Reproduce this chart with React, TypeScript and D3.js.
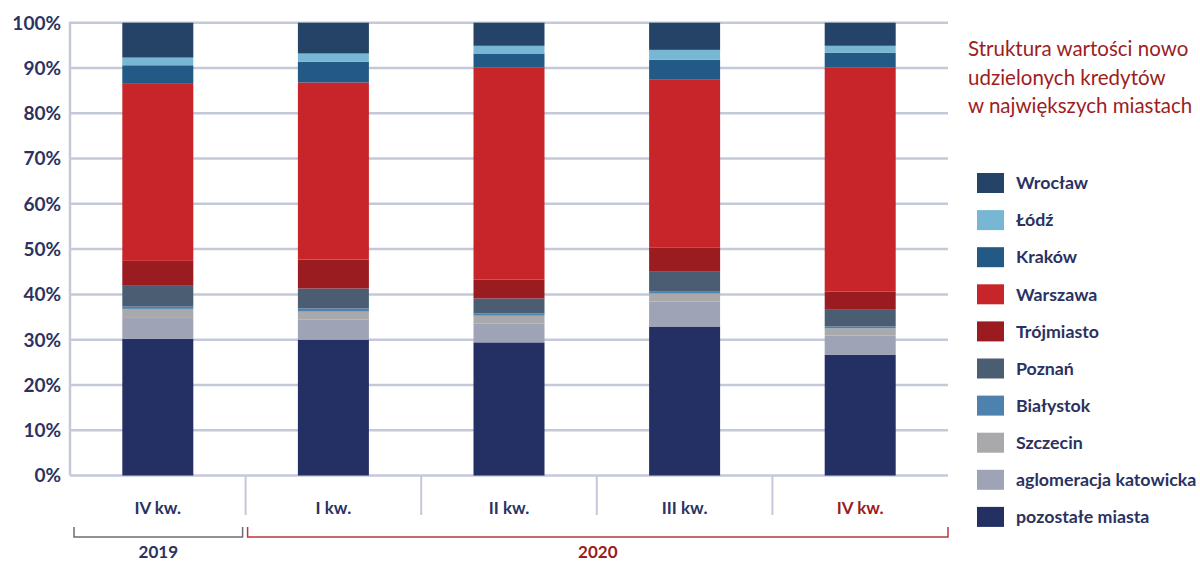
import React from "react";
import * as d3 from "d3";

const categories = ["IV kw.", "I kw.", "II kw.", "III kw.", "IV kw."];
const series = [
  "pozostałe miasta",
  "aglomeracja katowicka",
  "Szczecin",
  "Białystok",
  "Poznań",
  "Trójmiasto",
  "Warszawa",
  "Kraków",
  "Łódź",
  "Wrocław",
];
const pozostale = [30.2, 30.0, 29.4, 32.9, 26.7];
const katowicka = [4.6, 4.4, 4.2, 5.5, 4.2];
const szczecin = [2.0, 1.8, 1.7, 1.8, 1.6];
const bialystok = [0.5, 0.7, 0.5, 0.4, 0.4];
const poznan = [4.6, 4.4, 3.3, 4.4, 3.7];
const trojmiasto = [5.5, 6.4, 4.2, 5.3, 4.0];
const warszawa = [39.1, 39.1, 46.8, 37.1, 49.5];
const krakow = [4.1, 4.6, 3.1, 4.4, 3.3];
const lodz = [1.7, 1.8, 1.7, 2.2, 1.5];
const wroclaw = [7.7, 6.8, 5.1, 6.0, 5.1];
const yTicks = [0, 10, 20, 30, 40, 50, 60, 70, 80, 90, 100];
const years = [
  { label: "2019", from: 0, to: 0 },
  { label: "2020", from: 1, to: 4 },
];
const title = ["Struktura wartości nowo", "udzielonych kredytów", "w największych miastach"];

const colors = [
  "#242f63",
  "#9ea3b5",
  "#a9a9ab",
  "#4c82ad",
  "#4a5d73",
  "#9a1c21",
  "#c72529",
  "#235985",
  "#78b7d3",
  "#244366",
];

const values = [pozostale, katowicka, szczecin, bialystok, poznan, trojmiasto, warszawa, krakow, lodz, wroclaw];

const NAVY = "#2a3262";
const GRID = "#c3c9d9";
const FONT = "Lato, 'Open Sans', sans-serif";

export default function App() {
  const W = 1200;
  const H = 563;
  const left = 70;
  const right = 948;
  const x = d3.scaleBand<number>().domain(d3.range(categories.length)).range([left, right]).paddingInner(0).paddingOuter(0);
  const y = d3.scaleLinear().domain([0, 100]).range([475.5, 22.7]);
  const barW = 71;

  const rows = categories.map((_, i) => {
    const r: any = { i };
    series.forEach((s, k) => (r[s] = values[k][i]));
    return r;
  });
  const stacked = d3.stack<any>().keys(series)(rows);

  const legendOrder = [...series].reverse();

  return (
    <svg width={W} height={H} style={{ position: "absolute", left: 0, top: 0, background: "#fff" }} fontFamily={FONT}>
      {/* gridlines */}
      {yTicks.map((t) => (
        <line key={t} x1={left} x2={right} y1={y(t)} y2={y(t)} stroke={GRID} strokeWidth={2.5} />
      ))}
      <line x1={left} x2={left} y1={y(100) - 1} y2={y(0)} stroke={GRID} strokeWidth={2.5} />
      {/* bars */}
      {stacked.map((layer, k) => (
        <g key={layer.key} fill={colors[k]}>
          {layer.map((d, i) => (
            <rect
              key={i}
              x={(x(i) as number) + x.bandwidth() / 2 - barW / 2}
              width={barW}
              y={y(d[1])}
              height={Math.max(0, y(d[0]) - y(d[1]))}
            />
          ))}
        </g>
      ))}
      {/* y labels */}
      {yTicks.map((t) => (
        <text key={t} x={61} y={y(t)} dy="0.36em" textAnchor="end" fill={NAVY} fontSize={19} fontWeight={700}>
          {t}%
        </text>
      ))}
      {/* category separators */}
      {categories.slice(1).map((_, i) => (
        <line key={i} x1={x(i + 1) as number} x2={x(i + 1) as number} y1={476} y2={515} stroke={GRID} strokeWidth={2} />
      ))}
      {/* category labels */}
      {categories.map((c, i) => (
        <text
          key={i}
          x={(x(i) as number) + x.bandwidth() / 2}
          y={508}
          dy="0.35em"
          textAnchor="middle"
          fill={i === categories.length - 1 ? "#9a1c21" : NAVY}
          fontSize={17}
          fontWeight={700}
        >
          {c}
        </text>
      ))}
      {/* year brackets */}
      {years.map((yr, j) => {
        const x0 = (x(yr.from) as number) + (j === 0 ? 4 : 2);
        const x1 = (x(yr.to) as number) + x.bandwidth() - (j === 0 ? 3 : 0);
        const col = j === 0 ? "#6d6d6d" : "#b8383c";
        return (
          <g key={yr.label}>
            <path d={`M${x0},527 V537 H${x1} V527`} fill="none" stroke={col} strokeWidth={1.5} />
            <text
              x={(x0 + x1) / 2}
              y={552}
              dy="0.35em"
              textAnchor="middle"
              fill={j === 0 ? NAVY : "#9a1c21"}
              fontSize={17}
              fontWeight={700}
            >
              {yr.label}
            </text>
          </g>
        );
      })}
      {/* title */}
      {title.map((t, i) => (
        <text key={i} x={968} y={56 + i * 28.5} fill="#9d1d22" fontSize={20.5} fontWeight={400}>
          {t}
        </text>
      ))}
      {/* legend */}
      {legendOrder.map((s, i) => {
        const k = series.indexOf(s);
        const cy = 183 + i * 37.1;
        return (
          <g key={s}>
            <rect x={977} y={cy - 10} width={27} height={20} fill={colors[k]} />
            <text x={1016} y={cy} dy="0.35em" fill={NAVY} fontSize={17.8} fontWeight={700}>
              {s}
            </text>
          </g>
        );
      })}
    </svg>
  );
}
